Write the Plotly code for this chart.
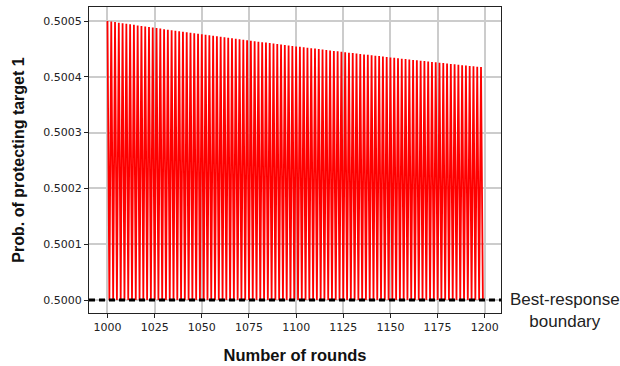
import plotly.graph_objects as go

# Round index of the first plotted round and number of rounds
first_round = 1000
n_rounds = 200

# Probability at the even rounds (peaks of the oscillation)
peak_probs = [
    0.5005000, 0.5004990, 0.5004980, 0.5004970, 0.5004960, 0.5004951, 0.5004941, 0.5004931,
    0.5004921, 0.5004912, 0.5004902, 0.5004892, 0.5004883, 0.5004873, 0.5004864, 0.5004854,
    0.5004845, 0.5004836, 0.5004826, 0.5004817, 0.5004808, 0.5004798, 0.5004789, 0.5004780,
    0.5004771, 0.5004762, 0.5004753, 0.5004744, 0.5004735, 0.5004726, 0.5004717, 0.5004708,
    0.5004699, 0.5004690, 0.5004682, 0.5004673, 0.5004664, 0.5004655, 0.5004647, 0.5004638,
    0.5004630, 0.5004621, 0.5004613, 0.5004604, 0.5004596, 0.5004587, 0.5004579, 0.5004570,
    0.5004562, 0.5004554, 0.5004545, 0.5004537, 0.5004529, 0.5004521, 0.5004513, 0.5004505,
    0.5004496, 0.5004488, 0.5004480, 0.5004472, 0.5004464, 0.5004456, 0.5004448, 0.5004441,
    0.5004433, 0.5004425, 0.5004417, 0.5004409, 0.5004401, 0.5004394, 0.5004386, 0.5004378,
    0.5004371, 0.5004363, 0.5004355, 0.5004348, 0.5004340, 0.5004333, 0.5004325, 0.5004318,
    0.5004310, 0.5004303, 0.5004296, 0.5004288, 0.5004281, 0.5004274, 0.5004266, 0.5004259,
    0.5004252, 0.5004245, 0.5004237, 0.5004230, 0.5004223, 0.5004216, 0.5004209, 0.5004202,
    0.5004195, 0.5004188, 0.5004181, 0.5004174,
]
# Probability at the odd rounds (troughs, sitting on the boundary)
trough_probs = [0.5000] * 100

boundary = 0.5

x_ticks = [1000, 1025, 1050, 1075, 1100, 1125, 1150, 1175, 1200]
y_ticks = [0.5000, 0.5001, 0.5002, 0.5003, 0.5004, 0.5005]

rounds = list(range(first_round, first_round + n_rounds))
probs = []
for p, t in zip(peak_probs, trough_probs):
    probs.extend([p, t])

fig = go.Figure()
fig.add_trace(go.Scatter(
    x=rounds, y=probs, mode="lines",
    line=dict(color="#ff0000", width=1.8, simplify=False),
    showlegend=False, hoverinfo="skip",
))

# Best-response boundary across the whole axis width
fig.add_shape(type="line", xref="paper", x0=0, x1=1, yref="y", y0=boundary, y1=boundary,
              line=dict(color="black", width=3, dash="6px,4px"), layer="above")

fig.add_annotation(xref="paper", x=1.155, xanchor="center", yref="y", y=boundary,
                   yanchor="middle", yshift=-10,
                   text="Best-response<br>boundary", showarrow=False,
                   font=dict(family="Liberation Sans, Arial, sans-serif", size=17, color="#222"),
                   align="center")

tick_font = dict(family="DejaVu Sans, sans-serif", size=11, color="#222")
axis_common = dict(
    showline=True, mirror=True, linecolor="#222", linewidth=1,
    ticks="outside", ticklen=4, tickcolor="#222", tickwidth=1,
    showgrid=True, gridcolor="#cccccc", gridwidth=1.5,
    zeroline=False, tickfont=tick_font, automargin=False,
)

fig.update_layout(
    width=620, height=366,
    margin=dict(l=89, r=119, t=7, b=53),
    paper_bgcolor="white", plot_bgcolor="white",
    xaxis=dict(
        range=[990.2, 1208.6], tickvals=x_ticks,
        title=dict(text="<b>Number of rounds</b>", standoff=16,
                   font=dict(family="Liberation Sans, Arial, sans-serif", size=16.5, color="#111")),
        **axis_common,
    ),
    yaxis=dict(
        range=[0.4999767, 0.5005251], tickvals=y_ticks, tickformat=".4f",
        title=dict(text="<b>Prob. of protecting target 1</b>", standoff=14,
                   font=dict(family="Liberation Sans, Arial, sans-serif", size=16, color="#111")),
        **axis_common,
    ),
)

fig.write_html("out.html")
